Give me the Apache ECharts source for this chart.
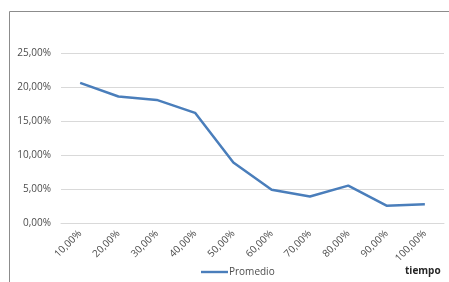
<!DOCTYPE html>
<html>
<head>
<meta charset="utf-8">
<script src="https://cdn.jsdelivr.net/npm/echarts@6/dist/echarts.min.js"></script>
<style>
  html, body { margin: 0; padding: 0; background: #fff; }
  #grafico { width: 449px; height: 282px; }
</style>
</head>
<body>
<div id="grafico"></div>
<script>
// Dati
var categorie = ['10,00%', '20,00%', '30,00%', '40,00%', '50,00%', '60,00%', '70,00%', '80,00%', '90,00%', '100,00%'];
var promedio = [20.6, 18.6, 18.1, 16.2, 8.9, 4.9, 3.9, 5.5, 2.55, 2.75];

var fonte = 'Open Sans, Liberation Sans, sans-serif';
var grafico = echarts.init(document.getElementById('grafico'));
var option = {
  animation: false,
  textStyle: { fontFamily: fonte },
  graphic: [{
    type: 'rect',
    shape: { x: 9.5, y: 11.5, width: 470, height: 300 },
    style: { fill: 'none', stroke: '#8c8c8c', lineWidth: 1 }
  }],
  title: {
    text: 'tiempo',
    left: 400, top: 261,
    textStyle: { fontSize: 10, fontWeight: 'bold', color: '#262626', fontFamily: fonte }
  },
  legend: {
    data: ['Promedio'],
    left: 196, top: 262,
    itemWidth: 27, itemHeight: 10, itemGap: 4,
    icon: 'path://M0,3.8 L27,3.8 L27,6.2 L0,6.2 Z',
    textStyle: { fontSize: 10, color: '#4d4d4d', fontFamily: fonte, padding: [0, 0, 0, -4] }
  },
  grid: { left: 61, right: 5, top: 53, bottom: 59, containLabel: false },
  xAxis: {
    type: 'category',
    data: categorie,
    boundaryGap: true,
    axisLine: { show: true, lineStyle: { color: '#d9d9d9' } },
    axisTick: { show: false },
    axisLabel: { rotate: 45, fontSize: 10, color: '#4d4d4d', margin: 9, interval: 0 }
  },
  yAxis: {
    type: 'value',
    min: 0, max: 25, interval: 5,
    axisLine: { show: false },
    axisTick: { show: false },
    splitLine: { lineStyle: { color: '#d9d9d9' } },
    axisLabel: {
      fontSize: 10, color: '#4d4d4d', margin: 10,
      formatter: function (v) { return v.toFixed(2).replace('.', ',') + '%'; }
    }
  },
  series: [{
    name: 'Promedio',
    type: 'line',
    data: promedio,
    symbol: 'none',
    lineStyle: { color: '#4a7ebb', width: 2.5 },
    itemStyle: { color: '#4a7ebb' }
  }]
};
grafico.setOption(option);
</script>
</body>
</html>
